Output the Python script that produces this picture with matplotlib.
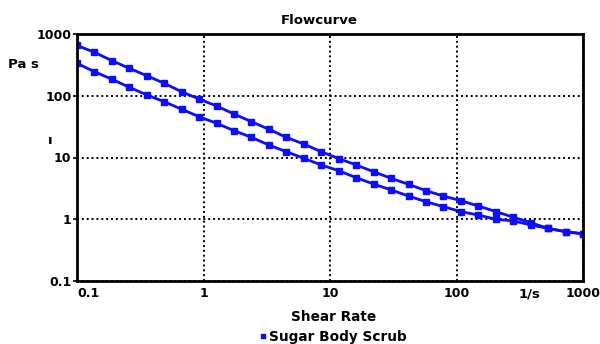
import numpy as np
import matplotlib
matplotlib.use("Agg")
import matplotlib.pyplot as plt
from matplotlib.lines import Line2D

plt.rcParams['font.family'] = ['DejaVu Sans']
plt.rcParams['font.weight'] = 'bold'

# shear rate, 30 log-spaced points from 0.1 to 1000 1/s
shear_rate = np.logspace(-1, 3, 30)

# viscosity (Pa s)
visc_up = [652, 506, 370, 278, 211, 159, 116, 88.5, 68.2, 50.6,
           38.0, 28.6, 21.2, 16.5, 12.4, 9.63, 7.56, 5.89, 4.60, 3.68,
           2.90, 2.38, 2.00, 1.64, 1.33, 1.08, 0.88, 0.71, 0.63, 0.58]
visc_down = [335, 245, 185, 137, 103, 80.1, 60.4, 45.8, 35.8, 27.2,
             21.2, 15.9, 12.4, 9.7, 7.56, 6.11, 4.71, 3.72, 2.98, 2.38,
             1.92, 1.60, 1.33, 1.17, 1.00, 0.94, 0.81, 0.71, 0.63, 0.58]

xticks = [0.1, 1, 10, 100, 1000]
xlabels = ["0.1", "1", "10", "100", "1000"]
yticks = [0.1, 1, 10, 100, 1000]
ylabels = ["0.1", "1", "10", "100", "1000"]

blue = "#0c0cff"

fig = plt.figure(figsize=(6, 3.44), dpi=100)
ax = fig.add_axes([77/600, 1-281/344, (583-77)/600, (281-34)/344])

for v in (visc_up, visc_down):
    ax.plot(shear_rate, v, '-s', color=blue, lw=2, ms=4.5, mec=blue)

ax.set_xscale('log')
ax.set_yscale('log')
ax.set_xlim(0.1, 1000)
ax.set_ylim(0.1, 1000)
ax.set_xticks(xticks)
ax.set_xticklabels(xlabels)
ax.set_yticks(yticks)
ax.set_yticklabels(ylabels)
ax.minorticks_off()
ax.tick_params(axis='both', labelsize=9, width=1.2, length=3, pad=1)
ax.tick_params(axis='x', length=0, pad=4)
ax.get_xticklabels()[0].set_horizontalalignment('left')
ax.grid(True, color='black', ls=(0, (1, 1.5)), lw=1.4)
for s in ax.spines.values():
    s.set_linewidth(2)
    s.set_color('black')

fig.text(319/600, 1-20/344, "Flowcurve", ha='center', va='center', fontsize=9.5, fontweight='bold')
fig.text(8/600, 1-64/344, "Pa s", ha='left', va='center', fontsize=9.5, fontweight='bold')
fig.text(50/600, 1-140/344, "ı", ha='center', va='center', fontsize=9.5, fontweight='bold')
fig.text(530/600, 1-294/344, "1/s", ha='center', va='center', fontsize=9.5, fontweight='bold')
fig.text(334/600, 1-317/344, "Shear Rate", ha='center', va='center', fontsize=9.8, fontweight='bold')

handle = Line2D([], [], color=blue, marker='s', ls='none', ms=3.5)
fig.legend([handle], ["Sugar Body Scrub"], loc='center', bbox_to_anchor=(332/600, 1-337/344),
           frameon=False, fontsize=9.8, handletextpad=0.0, handlelength=0.8, borderpad=0)

fig.savefig("out.png", dpi=100)
